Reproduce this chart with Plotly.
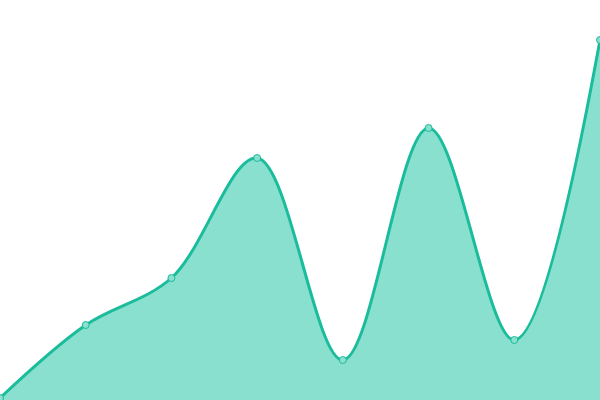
import plotly.graph_objects as go

x_vals = [0, 1, 2, 3, 4, 5, 6, 7]
y_vals = [2, 75, 122, 242, 40, 272, 60, 360]

fig = go.Figure()
fig.add_trace(go.Scatter(
    x=x_vals, y=y_vals, mode="lines+markers",
    line=dict(color="#1abc9c", width=3, shape="spline", smoothing=1.0),
    fill="tozeroy", fillcolor="#8ae0cf",
    marker=dict(size=7, color="#8ae0cf", line=dict(color="#1abc9c", width=1)),
    hoverinfo="skip", cliponaxis=False,
))
fig.update_layout(
    width=600, height=400, margin=dict(l=0, r=0, t=0, b=0),
    paper_bgcolor="white", plot_bgcolor="white", showlegend=False,
    xaxis=dict(visible=False, range=[0, 7]),
    yaxis=dict(visible=False, range=[0, 400]),
)
fig.write_html("out.html", config={"displayModeBar": False},
               post_script="document.body.style.margin='0';document.body.style.overflow='hidden';")
